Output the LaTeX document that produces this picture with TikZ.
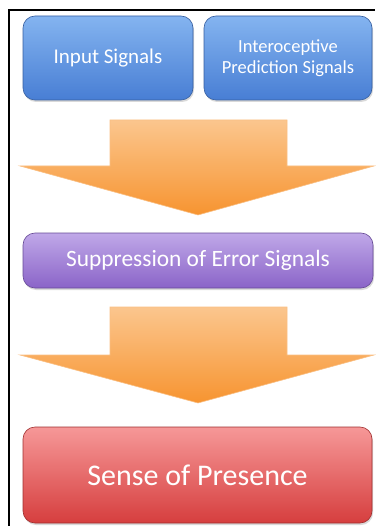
\documentclass[tikz,border=0pt]{standalone}
\usepackage{fontspec}
\setmainfont{Carlito}
\usetikzlibrary{positioning,shadows}

\definecolor{bluetop}{RGB}{132,180,240}
\definecolor{bluebot}{RGB}{72,126,212}
\definecolor{purptop}{RGB}{192,168,232}
\definecolor{purpbot}{RGB}{138,100,200}
\definecolor{redtop}{RGB}{246,152,152}
\definecolor{redbot}{RGB}{214,62,62}
\definecolor{orgtop}{RGB}{251,198,142}
\definecolor{orgbot}{RGB}{247,148,48}

\tikzset{
  box/.style={rounded corners=12pt, draw=#1bot!75!black, line width=0.6pt,
    top color=#1top, bottom color=#1bot, text=white, align=center,
    drop shadow={opacity=0.3, shadow xshift=1pt, shadow yshift=-2pt}},
  bigarrow/.style={top color=orgtop, bottom color=orgbot, draw=orgbot!60!white, line width=0.6pt},
}

\begin{document}
\begin{tikzpicture}[x=1pt,y=-1pt]
    \useasboundingbox (0,0) rectangle (375,526);
    % \draw[help lines,step=20] (0,0) grid (375,526);
    % frame
    \draw[line width=2pt] (8.5,526) -- (8.5,10.5) -- (375,10.5);

    \node[box=blue,minimum width=170pt,minimum height=84pt,
          font=\fontsize{21}{25}\selectfont] (input) at (108,58) {Input Signals};
    \node[box=blue,minimum width=168pt,minimum height=84pt,
          font=\fontsize{18.5}{21}\selectfont] (intero) at (288,58)
        {Interoceptive\\Prediction Signals};
    \node[box=purp,minimum width=350pt,minimum height=55pt,
          font=\fontsize{23.4}{28}\selectfont] (supp) at (198,260.5)
        {Suppression of Error Signals};
    \node[box=red,minimum width=349pt,minimum height=96pt,
          font=\fontsize{30}{36}\selectfont] (pres) at (197.5,475)
        {Sense of Presence};

    % block arrows
    \path[bigarrow] (110,120) -- (287,120) -- (287,166) -- (374,166)
        -- (198,215) -- (20,166) -- (110,166) -- cycle;
    \path[bigarrow] (110,307) -- (287,307) -- (287,355) -- (374,355)
        -- (198,403) -- (20,355) -- (110,355) -- cycle;
\end{tikzpicture}
\end{document}
